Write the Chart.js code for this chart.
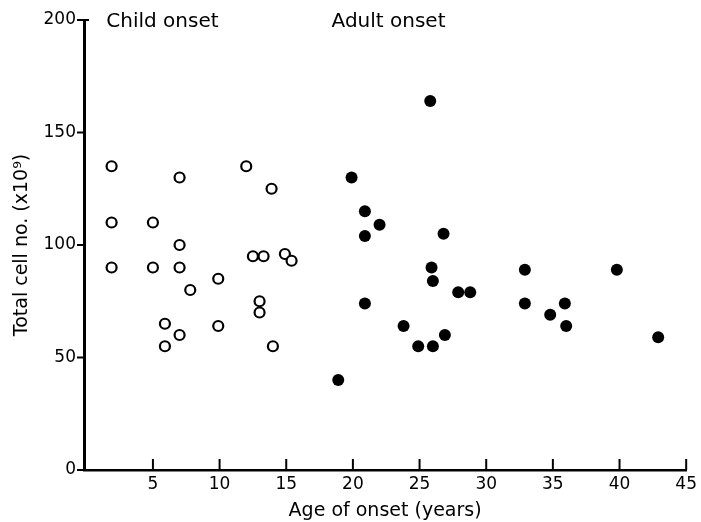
<!DOCTYPE html>
<html>
<head>
<meta charset="utf-8">
<script src="https://cdn.jsdelivr.net/npm/chart.js@4"></script>
<style>
  html, body { margin: 0; padding: 0; background: #fff; }
  #wrap { width: 701px; height: 522px; }
</style>
</head>
<body>
<div id="wrap"><canvas id="onsetChart" width="701" height="522"></canvas></div>
<script>
// child onset (open circles)
var childAge = [1.9, 7.0, 12.0, 13.9, 1.9, 5.0, 7.0, 1.9, 5.0, 7.0, 12.5, 13.3, 14.9, 15.4, 9.9, 7.8, 13.0, 13.0, 5.9, 9.9, 7.0, 5.9, 14.0];
var childCells = [135, 130, 135, 125, 110, 110, 100, 90, 90, 90, 95, 95, 96, 93, 85, 80, 75, 70, 65, 64, 60, 55, 55];

// adult onset (filled circles)
var adultAge = [18.9, 19.9, 20.9, 20.9, 20.9, 22.0, 23.8, 24.9, 25.8, 25.9, 26.0, 26.0, 26.8, 26.9, 27.9, 28.8, 32.9, 32.9, 34.8, 35.9, 36.0, 39.8, 42.9];
var adultCells = [40, 130, 115, 104, 74, 109, 64, 55, 164, 90, 84, 55, 105, 60, 79, 79, 89, 74, 69, 74, 64, 89, 59];

var xTicks = [5, 10, 15, 20, 25, 30, 35, 40, 45];
var yTicks = [0, 50, 100, 150, 200];

var groupLabels = ['Child onset', 'Adult onset'];
var groupLabelX = [1.5, 18.4];
var groupLabelY = [200, 200];

function toPoints(xs, ys) {
    return xs.map(function (x, i) { return { x: x, y: ys[i] }; });
}

var FONT = 'DejaVu Sans';

// axis tick marks: y ticks point out, x ticks point up into the plot
var tickMarks = {
    id: 'tickMarks',
    afterDraw: function (chart) {
        var c = chart.ctx, xs = chart.scales.x, ys = chart.scales.y;
        var area = chart.chartArea;
        c.save();
        c.strokeStyle = '#000';
        c.lineWidth = 2;
        xTicks.forEach(function (v) {
            var px = xs.getPixelForValue(v);
            c.beginPath();
            c.moveTo(px, area.bottom);
            c.lineTo(px, area.bottom - 11);
            c.stroke();
        });
        yTicks.forEach(function (v) {
            var py = ys.getPixelForValue(v);
            c.beginPath();
            c.moveTo(area.left - 7, py);
            c.lineTo(v === 200 ? area.left + 5 : area.left, py);
            c.stroke();
        });
        // group labels
        c.fillStyle = '#000';
        c.font = '20px "' + FONT + '"';
        c.textAlign = 'left';
        c.textBaseline = 'middle';
        groupLabels.forEach(function (t, i) {
            c.fillText(t, xs.getPixelForValue(groupLabelX[i]), ys.getPixelForValue(groupLabelY[i]) + 2);
        });
        c.restore();
    }
};

var ctx = document.getElementById('onsetChart').getContext('2d');

var myChart = new Chart(ctx, {
    type: 'scatter',
    data: {
        datasets: [{
            label: 'Child onset',
            data: toPoints(childAge, childCells),
            pointStyle: 'circle',
            pointRadius: 5,
            pointBorderWidth: 2.2,
            pointBorderColor: '#000',
            pointBackgroundColor: '#fff'
        }, {
            label: 'Adult onset',
            data: toPoints(adultAge, adultCells),
            pointStyle: 'circle',
            pointRadius: 6,
            pointBorderWidth: 0,
            pointBorderColor: '#000',
            pointBackgroundColor: '#000'
        }]
    },
    options: {
        responsive: false,
        animation: false,
        layout: {
            padding: { left: 0, top: 20, right: 11, bottom: 0 }
        },
        plugins: {
            legend: { display: false },
            tooltip: { enabled: false }
        },
        scales: {
            x: {
                type: 'linear',
                min: -0.17,
                max: 45,
                afterFit: function (scale) { scale.height = 52; },
                afterBuildTicks: function (scale) {
                    scale.ticks = xTicks.map(function (v) { return { value: v }; });
                },
                grid: { display: false, drawTicks: false },
                border: { display: true, color: '#000', width: 2.5 },
                ticks: {
                    color: '#000',
                    padding: 4,
                    maxRotation: 0,
                    font: { family: FONT, size: 17 }
                },
                title: {
                    display: true,
                    text: 'Age of onset (years)',
                    color: '#000',
                    padding: { top: 0, bottom: 0 },
                    font: { family: FONT, size: 19 }
                }
            },
            y: {
                type: 'linear',
                min: 0,
                max: 200,
                afterFit: function (scale) { scale.width = 84; },
                afterBuildTicks: function (scale) {
                    scale.ticks = yTicks.map(function (v) { return { value: v }; });
                },
                grid: { display: false, drawTicks: false },
                border: { display: true, color: '#000', width: 3 },
                ticks: {
                    color: '#000',
                    padding: 8,
                    font: { family: FONT, size: 17 }
                },
                title: {
                    display: true,
                    text: 'Total cell no. (x10⁹)',
                    color: '#000',
                    padding: { top: 11, bottom: 0 },
                    font: { family: FONT, size: 19 }
                }
            }
        }
    },
    plugins: [tickMarks]
});
</script>
</body>
</html>
